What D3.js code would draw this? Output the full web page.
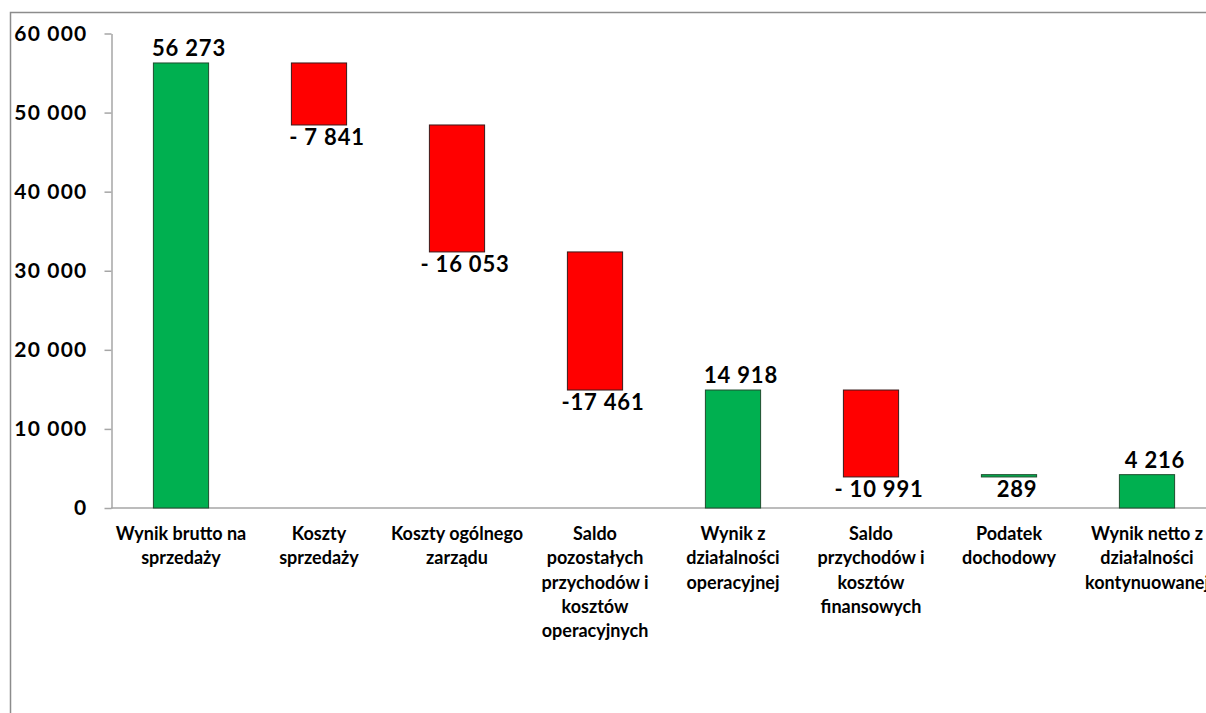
<!DOCTYPE html>
<html>
<head>
<meta charset="utf-8">
<script src="https://cdn.jsdelivr.net/npm/d3@7"></script>
<style>
  html, body { margin: 0; padding: 0; background: #fff; overflow: hidden; }
  svg { display: block; font-family: Lato, "Open Sans", sans-serif; }
</style>
</head>
<body>
<svg id="chart" width="1206" height="713"></svg>
<script>
// ---- data ----
const categories = [
  "Wynik brutto na\nsprzedaży",
  "Koszty\nsprzedaży",
  "Koszty ogólnego\nzarządu",
  "Saldo\npozostałych\nprzychodów i\nkosztów\noperacyjnych",
  "Wynik z\ndziałalności\noperacyjnej",
  "Saldo\nprzychodów i\nkosztów\nfinansowych",
  "Podatek\ndochodowy",
  "Wynik netto z\ndziałalności\nkontynuowanej"
];
const values = [56273, -7841, -16053, -17461, 14918, -10991, 289, 4216];
const isTotal = [true, false, false, false, true, false, false, true];
const valueLabels = ["56 273", "- 7 841", "- 16 053", "-17 461", "14 918", "- 10 991", "289", "4 216"];
const yTicks = [0, 10000, 20000, 30000, 40000, 50000, 60000];
const yTickLabels = ["0", "10 000", "20 000", "30 000", "40 000", "50 000", "60 000"];

// ---- waterfall computation ----
let running = 0;
const bars = values.map((v, i) => {
  let start, end;
  if (isTotal[i]) { start = 0; end = v; running = v; }
  else { start = running; end = running + v; running = end; }
  return { cat: categories[i], value: v, total: isTotal[i], start, end, label: valueLabels[i] };
});

const svg = d3.select("#chart");

// chart border (partially visible)
svg.append("rect")
  .attr("x", 10.5).attr("y", 12.5)
  .attr("width", 1300).attr("height", 800)
  .attr("fill", "none").attr("stroke", "#8c8c8c").attr("stroke-width", 1.5);

const x = d3.scaleBand()
  .domain(d3.range(categories.length))
  .range([112, 1216])
  .paddingInner(0.6)
  .paddingOuter(0.3);

const y = d3.scaleLinear().domain([0, 60000]).range([508, 33.5]);

// x axis baseline
svg.append("line")
  .attr("x1", 111).attr("x2", 1206)
  .attr("y1", y(0)).attr("y2", y(0))
  .attr("stroke", "#a6a6a6").attr("stroke-width", 1.5);

// y axis
const yAxis = svg.append("g")
  .attr("transform", "translate(111.5,0)")
  .call(d3.axisLeft(y).tickValues(yTicks).tickSize(7).tickSizeOuter(0).tickPadding(17)
    .tickFormat((d, i) => yTickLabels[i]));
yAxis.select(".domain").attr("stroke", "#a6a6a6").attr("stroke-width", 1.5);
yAxis.selectAll(".tick line").attr("stroke", "#a6a6a6").attr("stroke-width", 1.5);
yAxis.selectAll(".tick text")
  .attr("fill", "#000")
  .style("font-family", "Lato, sans-serif")
  .style("font-weight", "bold")
  .style("font-size", "21px")
  .style("letter-spacing", "1.2px");

// bars
svg.append("g").selectAll("rect")
  .data(bars)
  .join("rect")
  .attr("x", (d, i) => x(i))
  .attr("width", x.bandwidth())
  .attr("y", d => y(Math.max(d.start, d.end)))
  .attr("height", d => Math.max(1, Math.abs(y(d.start) - y(d.end))))
  .attr("fill", d => (d.total || d.value > 0) ? "#00b050" : "#ff0000")
  .attr("stroke", d => (d.total || d.value > 0) ? "#1f4d2e" : "#3a1a1a")
  .attr("stroke-width", 1);

// value labels
svg.append("g").selectAll("text")
  .data(bars)
  .join("text")
  .attr("x", (d, i) => x(i) + x.bandwidth() / 2 + 8)
  .attr("y", d => d.total ? y(d.end) - 7 : y(Math.min(d.start, d.end)) + 20)
  .attr("text-anchor", "middle")
  .attr("fill", "#000")
  .style("font-weight", "bold")
  .style("font-size", "22px")
  .style("letter-spacing", "0.8px")
  .text(d => d.label);

// category labels
const catG = svg.append("g");
bars.forEach((d, i) => {
  const t = catG.append("text")
    .attr("x", x(i) + x.bandwidth() / 2)
    .attr("y", 540)
    .attr("text-anchor", "middle")
    .attr("fill", "#000")
    .style("font-weight", "bold")
    .style("font-size", "18px");
  d.cat.split("\n").forEach((line, k) => {
    t.append("tspan")
      .attr("x", x(i) + x.bandwidth() / 2)
      .attr("dy", k === 0 ? 0 : 24.3)
      .text(line);
  });
});
</script>
</body>
</html>
